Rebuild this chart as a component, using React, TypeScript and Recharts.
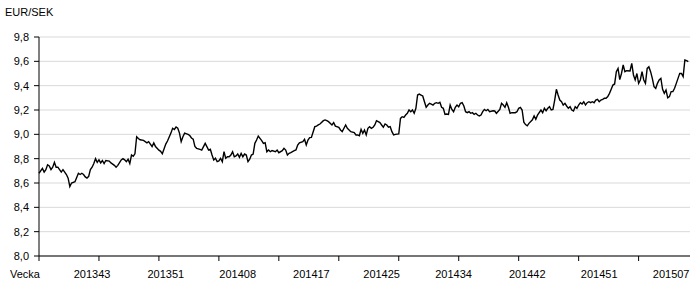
import { LineChart, Line, XAxis, YAxis, CartesianGrid } from 'recharts'

// trading day number (0 = first day shown) and the EUR/SEK fixing read for that day
const tradingDay = [
  0, 2, 3, 4, 5, 6, 7, 8, 9, 10,
  11, 12, 13, 14, 15, 16, 17, 18, 19, 21,
  23, 24, 25, 26, 27, 28, 29, 30, 31, 32,
  33, 34, 35, 36, 37, 38, 39, 41, 42, 44,
  45, 46, 48, 49, 50, 51, 52, 53, 54, 55,
  56, 57, 58, 59, 61, 63, 64, 65, 66, 67,
  68, 70, 71, 72, 74, 75, 77, 78, 79, 80,
  81, 82, 83, 84, 85, 87, 88, 89, 90, 91,
  92, 94, 95, 97, 98, 99, 100, 101, 102, 103,
  104, 105, 106, 107, 108, 109, 110, 111, 112, 113,
  114, 115, 116, 117, 118, 119, 120, 121, 122, 123,
  124, 125, 126, 127, 128, 129, 130, 131, 132, 133,
  134, 135, 136, 138, 139, 140, 142, 143, 144, 145,
  146, 147, 149, 150, 151, 152, 154, 155, 156, 157,
  158, 159, 161, 162, 163, 164, 166, 167, 168, 169,
  171, 172, 173, 175, 176, 177, 179, 180, 181, 182,
  184, 185, 186, 187, 188, 189, 190, 191, 192, 193,
  194, 195, 196, 197, 198, 199, 200, 201, 202, 203,
  204, 205, 206, 207, 208, 210, 211, 212, 213, 214,
  215, 216, 217, 218, 219, 220, 221, 222, 223, 224,
  225, 226, 227, 228, 229, 230, 231, 232, 233, 234,
  235, 236, 237, 238, 239, 240, 241, 242, 243, 244,
  245, 246, 247, 248, 249, 250, 251, 252, 253, 254,
  255, 256, 257, 258, 259, 260, 261, 262, 263, 265,
  266, 267, 269, 270, 271, 272, 273, 274, 275, 276,
  278, 279, 280, 281, 282, 283, 284, 285, 286, 288,
  289, 290, 291, 293, 294, 295, 296, 297, 298, 299,
  300, 301, 302, 303, 304, 305, 306, 307, 308, 309,
  310, 311, 312, 313, 314, 315, 316, 317, 318, 319,
  320, 321, 322, 323, 324, 325, 326, 327, 328, 329,
  330, 331, 332, 333, 334, 335, 336, 337, 338, 339,
  340, 341, 342, 343, 345, 346, 347, 348, 349, 350,
  351, 352, 353, 354, 355, 356, 357, 358, 359, 360,
  361, 362, 363, 364, 365, 366, 367, 368, 369, 370,
  371, 372, 373, 374, 375, 376, 377, 378, 379,
]

const eurSek = [
  8.68, 8.72, 8.69, 8.71, 8.75, 8.74, 8.71, 8.73, 8.77, 8.73,
  8.73, 8.71, 8.69, 8.71, 8.69, 8.67, 8.64, 8.57, 8.60, 8.61,
  8.68, 8.67, 8.68, 8.67, 8.65, 8.64, 8.655, 8.71, 8.73, 8.76,
  8.80, 8.77, 8.79, 8.765, 8.785, 8.76, 8.785, 8.78, 8.765, 8.745,
  8.73, 8.745, 8.79, 8.80, 8.79, 8.775, 8.795, 8.76, 8.83, 8.82,
  8.84, 8.98, 8.965, 8.955, 8.95, 8.93, 8.94, 8.92, 8.90, 8.93,
  8.90, 8.87, 8.86, 8.84, 8.92, 8.945, 9.01, 9.05, 9.04, 9.06,
  9.05, 9.01, 8.94, 8.98, 9.01, 9.00, 8.99, 8.97, 8.96, 8.90,
  8.885, 8.877, 8.871, 8.926, 8.899, 8.871, 8.877, 8.83, 8.789, 8.803,
  8.775, 8.781, 8.803, 8.775, 8.857, 8.803, 8.816, 8.816, 8.83, 8.857,
  8.816, 8.822, 8.838, 8.811, 8.844, 8.816, 8.838, 8.83, 8.775, 8.795,
  8.83, 8.838, 8.926, 8.953, 8.986, 8.967, 8.948, 8.926, 8.931, 8.857,
  8.871, 8.857, 8.866, 8.857, 8.871, 8.849, 8.866, 8.885, 8.871, 8.83,
  8.844, 8.849, 8.866, 8.871, 8.912, 8.931, 8.94, 8.959, 8.912, 8.953,
  8.973, 8.975, 9.063, 9.068, 9.077, 9.085, 9.112, 9.118, 9.112, 9.104,
  9.077, 9.096, 9.068, 9.058, 9.036, 9.022, 9.077, 9.049, 9.036, 9.022,
  9.014, 8.995, 8.995, 8.989, 9.041, 9.008, 9.036, 8.995, 9.049, 9.063,
  9.049, 9.058, 9.077, 9.112, 9.104, 9.096, 9.077, 9.058, 9.085, 9.077,
  9.058, 9.063, 9.022, 8.995, 9.00, 9.003, 9.131, 9.145, 9.14, 9.159,
  9.173, 9.20, 9.186, 9.20, 9.173, 9.214, 9.323, 9.331, 9.323, 9.315,
  9.268, 9.222, 9.241, 9.255, 9.249, 9.241, 9.255, 9.26, 9.255, 9.263,
  9.222, 9.214, 9.164, 9.167, 9.164, 9.241, 9.205, 9.186, 9.222, 9.241,
  9.227, 9.255, 9.26, 9.233, 9.186, 9.178, 9.186, 9.173, 9.178, 9.164,
  9.173, 9.159, 9.151, 9.159, 9.186, 9.205, 9.194, 9.205, 9.186, 9.194,
  9.192, 9.173, 9.205, 9.255, 9.241, 9.222, 9.26, 9.222, 9.173, 9.178,
  9.178, 9.186, 9.214, 9.222, 9.20, 9.10, 9.08, 9.07, 9.09, 9.12,
  9.151, 9.123, 9.159, 9.20, 9.178, 9.214, 9.194, 9.214, 9.227, 9.20,
  9.205, 9.28, 9.37, 9.323, 9.282, 9.268, 9.241, 9.255, 9.233, 9.214,
  9.227, 9.20, 9.192, 9.227, 9.214, 9.241, 9.26, 9.249, 9.268, 9.241,
  9.26, 9.268, 9.26, 9.268, 9.26, 9.282, 9.288, 9.268, 9.282, 9.288,
  9.296, 9.296, 9.31, 9.337, 9.37, 9.405, 9.414, 9.515, 9.542, 9.45,
  9.50, 9.57, 9.515, 9.523, 9.521, 9.584, 9.488, 9.447, 9.50, 9.419,
  9.447, 9.515, 9.447, 9.419, 9.542, 9.556, 9.515, 9.46, 9.392, 9.378,
  9.419, 9.447, 9.46, 9.37, 9.337, 9.364, 9.30, 9.31, 9.351, 9.351,
  9.378, 9.419, 9.46, 9.501, 9.50, 9.474, 9.611, 9.605, 9.597,
]

const TOTAL_DAYS = 380
const yTicks = [8.0, 8.2, 8.4, 8.6, 8.8, 9.0, 9.2, 9.4, 9.6, 9.8]
const tickMarkDays = [0, 35, 70, 105, 140, 175, 210, 245, 280, 315, 350]
const labelDays = [31, 74, 116, 159, 200, 242, 285, 327, 369]
const weekLabels = ['201343', '201351', '201408', '201417', '201425', '201434', '201442', '201451', '201507']

const data = tradingDay.map((day, i) => ({ day, rate: eurSek[i] }))
const allTicks = [...tickMarkDays, ...labelDays].sort((a, b) => a - b)

const FONT = '"Liberation Sans", Arial, sans-serif'

function WeekTick({ x, y, payload }: any) {
  const idx = labelDays.indexOf(payload.value)
  if (idx >= 0) {
    return (
      <text x={x} y={y + 22} textAnchor="middle" fontSize={11} fontFamily={FONT} fill="#000">
        {weekLabels[idx]}
      </text>
    )
  }
  return <line x1={x} x2={x} y1={y} y2={y + 5} stroke="#000" strokeWidth={1} />
}

export default function App() {
  return (
    <div style={{ position: 'absolute', left: 0, top: 0, width: 698, height: 292, background: '#fff', fontFamily: FONT }}>
      <div style={{ position: 'absolute', left: 5, top: 5, fontSize: 11, lineHeight: '14px', color: '#000' }}>EUR/SEK</div>
      <div style={{ position: 'absolute', left: 10, top: 267, fontSize: 11, lineHeight: '14px', color: '#000' }}>Vecka</div>
      <LineChart width={698} height={292} data={data} margin={{ top: 37, right: 8, bottom: 0, left: 0 }}>
        <CartesianGrid vertical={false} stroke="#d9d9d9" />
        <XAxis
          type="number"
          dataKey="day"
          domain={[0, TOTAL_DAYS]}
          ticks={allTicks}
          interval={0}
          tick={<WeekTick />}
          tickLine={false}
          tickSize={0}
          tickMargin={0}
          axisLine={{ stroke: '#000' }}
          height={36}
        />
        <YAxis
          domain={[8, 9.8]}
          ticks={yTicks}
          interval={0}
          width={39}
          tickSize={5}
          tickMargin={5}
          axisLine={{ stroke: '#000' }}
          tickLine={{ stroke: '#000' }}
          tick={{ fill: '#000', fontSize: 11, fontFamily: FONT }}
          tickFormatter={(v: number) => v.toFixed(1).replace('.', ',')}
        />
        <Line
          type="linear"
          dataKey="rate"
          stroke="#000"
          strokeWidth={1.4}
          dot={false}
          isAnimationActive={false}
        />
      </LineChart>
    </div>
  )
}
